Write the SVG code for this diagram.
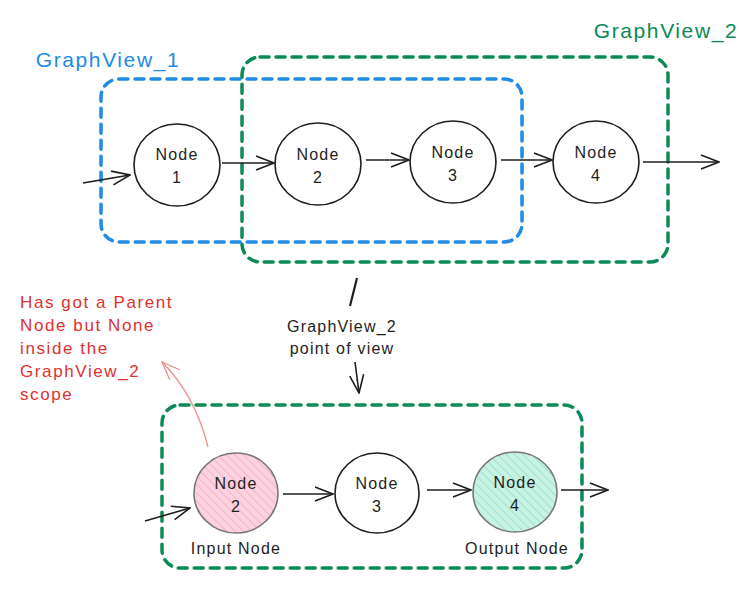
<svg xmlns="http://www.w3.org/2000/svg" width="754" height="605" viewBox="0 0 754 605">
<style>
.node ellipse{stroke:#1e1e1e;stroke-width:1.6;fill:#fff}
.t{font-family:"Liberation Sans",Arial,sans-serif;font-size:16px;letter-spacing:1.2px;fill:#1e1e1e;text-anchor:middle}
.big{font-size:21px;letter-spacing:1.6px}
.red{font-family:"Liberation Sans",Arial,sans-serif;font-size:17px;letter-spacing:1.6px;fill:#e03131}
.conn path{stroke:#1e1e1e;stroke-width:1.6;fill:none}
.dash{fill:none;stroke-width:3.5;stroke-dasharray:9 7;stroke-linecap:round}
</style>
<defs>
<marker id="ah" viewBox="0 0 20 16" refX="19" refY="8" markerWidth="20" markerHeight="16" markerUnits="userSpaceOnUse" orient="auto">
<path d="M1,1 L19,8 L1,15" fill="none" stroke="#1e1e1e" stroke-width="1.6"/>
</marker>
<marker id="ahr" viewBox="0 0 20 16" refX="19" refY="8" markerWidth="20" markerHeight="16" markerUnits="userSpaceOnUse" orient="auto">
<path d="M1,1 L19,8 L1,15" fill="none" stroke="#f08c8c" stroke-width="1.3"/>
</marker>
<pattern id="hp" width="6" height="6" patternUnits="userSpaceOnUse" patternTransform="rotate(-45)">
<rect width="6" height="6" fill="#fbd3e0"/>
<line x1="0" y1="0" x2="0" y2="6" stroke="#f3a6bf" stroke-width="1.5"/>
</pattern>
<pattern id="hg" width="6" height="6" patternUnits="userSpaceOnUse" patternTransform="rotate(-45)">
<rect width="6" height="6" fill="#c8f2e4"/>
<line x1="0" y1="0" x2="0" y2="6" stroke="#8fdcc2" stroke-width="1.5"/>
</pattern>
</defs>

<g id="scopes">
<rect id="gv1-box" class="dash" x="101" y="79" width="421" height="163" rx="18" stroke="#228be6"/>
<rect id="gv2-box" class="dash" x="242" y="57" width="426" height="205" rx="18" stroke="#0b8a55"/>
<rect id="gv2-bottom-box" class="dash" x="162" y="405" width="420" height="163" rx="18" stroke="#0b8a55"/>
</g>

<g id="labels">
<text class="t big" x="108" y="67" style="fill:#228be6">GraphView_1</text>
<text class="t big" x="666" y="38" style="fill:#0b8a55">GraphView_2</text>
<text class="t" x="342" y="332">GraphView_2</text>
<text class="t" x="342" y="354">point of view</text>
<g class="red">
<text x="20" y="308">Has got a Parent</text>
<text x="20" y="331">Node but None</text>
<text x="20" y="354">inside the</text>
<text x="20" y="377">GraphView_2</text>
<text x="20" y="400">scope</text>
</g>
<text class="t" x="236" y="554">Input Node</text>
<text class="t" x="517" y="554">Output Node</text>
</g>

<g id="n1" class="node"><ellipse cx="177" cy="165" rx="43" ry="41"/><text class="t" x="177" y="160">Node</text><text class="t" x="177" y="183">1</text></g>
<g id="n2" class="node"><ellipse cx="318" cy="164" rx="43" ry="41"/><text class="t" x="318" y="160">Node</text><text class="t" x="318" y="183">2</text></g>
<g id="n3" class="node"><ellipse cx="453" cy="162" rx="43" ry="41"/><text class="t" x="453" y="158">Node</text><text class="t" x="453" y="181">3</text></g>
<g id="n4" class="node"><ellipse cx="596" cy="162" rx="43" ry="41"/><text class="t" x="596" y="158">Node</text><text class="t" x="596" y="181">4</text></g>

<g id="b2" class="node"><ellipse cx="236" cy="493" rx="42" ry="40" style="fill:url(#hp);stroke:#777"/><text class="t" x="236" y="489">Node</text><text class="t" x="236" y="512">2</text></g>
<g id="b3" class="node"><ellipse cx="377" cy="493" rx="42" ry="40"/><text class="t" x="377" y="489">Node</text><text class="t" x="377" y="512">3</text></g>
<g id="b4" class="node"><ellipse cx="515" cy="492" rx="42" ry="40" style="fill:url(#hg);stroke:#777"/><text class="t" x="515" y="488">Node</text><text class="t" x="515" y="511">4</text></g>

<g id="connectors" class="conn">
<path d="M83,183 L130,175" marker-end="url(#ah)"/>
<path d="M222,163 L274,163" marker-end="url(#ah)"/>
<path d="M366,160 L409,160" marker-end="url(#ah)"/>
<path d="M501,160 L552,160" marker-end="url(#ah)"/>
<path d="M643,162 L719,162" marker-end="url(#ah)"/>
<path d="M357,278 L350,306" style="stroke-width:2.2"/>
<path d="M355,362 L359,393" marker-end="url(#ah)"/>
<path d="M145,521 L190,508" marker-end="url(#ah)"/>
<path d="M283,494 L333,494" marker-end="url(#ah)"/>
<path d="M427,490 L471,490" marker-end="url(#ah)"/>
<path d="M561,490 L608,490" marker-end="url(#ah)"/>
<path d="M208,447 Q195,395 162,362" marker-end="url(#ahr)" style="stroke:#f08c8c;stroke-width:1.3"/>
</g>
</svg>
